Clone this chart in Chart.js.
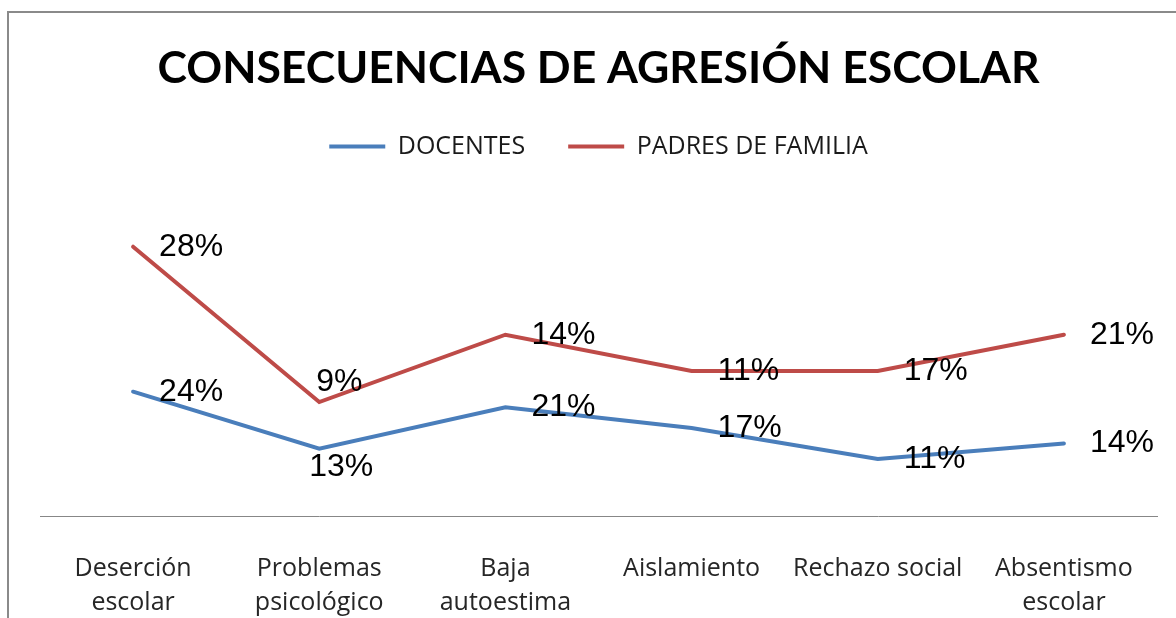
<!DOCTYPE html>
<html><head><meta charset="utf-8">
<script src="https://cdn.jsdelivr.net/npm/chart.js@4"></script>
<style>
html,body{margin:0;padding:0;background:#fff;overflow:hidden}
#wrap{position:relative;width:1176px;height:618px;background:#fff}
#frame{position:absolute;left:7px;top:11px;width:1300px;height:800px;border:2px solid #8a8a8a;pointer-events:none}
canvas{display:block}
</style></head>
<body>
<div id="wrap"><canvas id="c" width="1176" height="618"></canvas><div id="frame"></div></div>
<script>
const categories = [['Deserción','escolar'],['Problemas','psicológico'],['Baja','autoestima'],['Aislamiento'],['Rechazo social'],['Absentismo','escolar']];
const seriesNames = ['DOCENTES','PADRES DE FAMILIA'];
const docentes = [24,13,21,17,11,14];
const padres = [28,9,14,11,17,21];
const titleText = 'CONSECUENCIAS DE AGRESIÓN ESCOLAR';
const yMin = 0;
const yMax = 67;

// label placement (style, not data)
const labelPlacement = [
  ['right','below','right','right','right','right'],
  ['right','above','right','right','right','right']
];

const dataLabels = {
  id:'dataLabels',
  afterDatasetsDraw(chart){
    const ctx = chart.ctx;
    ctx.save();
    ctx.font = '32px "Liberation Sans", Arial, sans-serif';
    ctx.fillStyle = '#000';
    chart.data.datasets.forEach((ds, di) => {
      const meta = chart.getDatasetMeta(di);
      meta.data.forEach((pt, i) => {
        const txt = ds.data[i] + '%';
        const pos = labelPlacement[di][i];
        let x = pt.x, y = pt.y;
        ctx.textBaseline = 'middle';
        if (pos === 'right') { ctx.textAlign = 'left'; x += 26; }
        else if (pos === 'below') { ctx.textAlign = 'center'; x += 22; y += 19; }
        else { ctx.textAlign = 'center'; x += 20; y -= 20; }
        ctx.fillText(txt, x, y);
      });
    });
    ctx.restore();
  }
};

new Chart(document.getElementById('c'), {
  type:'line',
  data:{
    labels: categories,
    datasets:[
      {label: seriesNames[0], data: docentes, borderColor:'#4a7ebb', backgroundColor:'#4a7ebb', borderWidth:4, pointRadius:0, tension:0, fill:false, borderCapStyle:'round'},
      {label: seriesNames[1], data: padres, borderColor:'#be4b48', backgroundColor:'#be4b48', borderWidth:4, pointRadius:0, tension:0, fill:false, borderCapStyle:'round'}
    ]
  },
  options:{
    responsive:false,
    animation:false,
    devicePixelRatio:1,
    layout:{padding:{left:40,right:19,top:0,bottom:0}},
    plugins:{
      title:{display:true,text:titleText,color:'#000',font:{family:'Lato',weight:'bold',size:44.5,lineHeight:1.0},padding:{top:46.5,bottom:0}},
      legend:{display:true,position:'top',labels:{usePointStyle:true,pointStyle:'line',pointStyleWidth:56,padding:43,color:'#1a1a1a',font:{family:'"Open Sans"',size:25}}},
      tooltip:{enabled:false}
    },
    scales:{
      x:{
        offset:true,
        grid:{display:false,drawTicks:false},
        border:{display:true,color:'#878787',width:1},
        ticks:{color:'#262626',padding:36,font:{family:'"Open Sans"',size:25,lineHeight:1.35},maxRotation:0,autoSkip:false},
        afterFit(scale){ scale.height = 102; }
      },
      y:{
        display:false,
        stacked:true,
        min:yMin,
        max:yMax
      }
    }
  },
  plugins:[dataLabels]
});
</script>
</body></html>
